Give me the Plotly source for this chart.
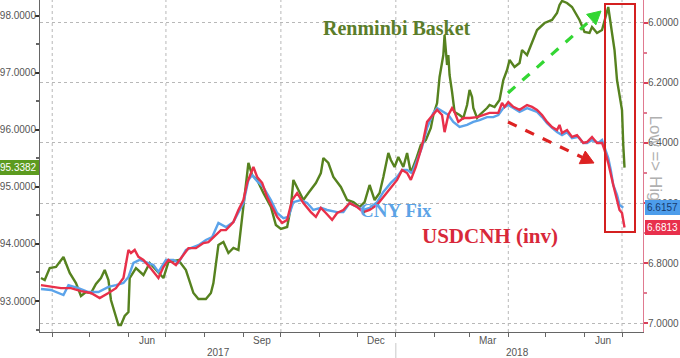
import plotly.graph_objects as go

# ---------------- data ----------------
basket_dates = [
    "2017-03-23", "2017-03-26", "2017-03-30", "2017-04-04", "2017-04-10", "2017-04-15", "2017-04-20",
    "2017-04-24", "2017-04-28", "2017-05-02", "2017-05-06", "2017-05-10", "2017-05-13", "2017-05-16",
    "2017-05-18", "2017-05-21", "2017-05-24", "2017-05-26", "2017-05-29", "2017-06-01", "2017-06-02",
    "2017-06-07", "2017-06-13", "2017-06-18", "2017-06-23", "2017-06-29", "2017-07-03", "2017-07-11",
    "2017-07-17", "2017-07-23", "2017-07-27", "2017-08-02", "2017-08-06", "2017-08-08", "2017-08-12",
    "2017-08-16", "2017-08-20", "2017-08-24", "2017-08-28", "2017-09-01", "2017-09-05", "2017-09-08",
    "2017-09-12", "2017-09-17", "2017-09-23", "2017-09-27", "2017-10-01", "2017-10-06", "2017-10-09",
    "2017-10-11", "2017-10-15", "2017-10-19", "2017-10-23", "2017-10-29", "2017-11-02", "2017-11-04",
    "2017-11-08", "2017-11-12", "2017-11-18", "2017-11-23", "2017-11-28", "2017-12-03", "2017-12-07",
    "2017-12-11", "2017-12-15", "2017-12-19", "2017-12-22", "2017-12-26", "2017-12-28", "2017-12-31",
    "2018-01-03", "2018-01-07", "2018-01-10", "2018-01-13", "2018-01-17", "2018-01-21", "2018-01-25",
    "2018-01-29", "2018-01-31", "2018-02-03", "2018-02-05", "2018-02-08", "2018-02-09", "2018-02-10",
    "2018-02-11", "2018-02-12", "2018-02-13", "2018-02-15", "2018-02-17", "2018-02-21", "2018-02-24",
    "2018-02-27", "2018-03-01", "2018-03-03", "2018-03-04", "2018-03-07", "2018-03-09", "2018-03-15",
    "2018-03-17", "2018-03-21", "2018-03-25", "2018-03-28", "2018-03-31", "2018-04-02", "2018-04-06",
    "2018-04-10", "2018-04-12", "2018-04-16", "2018-04-20", "2018-04-24", "2018-04-30", "2018-05-06",
    "2018-05-10", "2018-05-12", "2018-05-14", "2018-05-18", "2018-05-22", "2018-05-28", "2018-06-01",
    "2018-06-05", "2018-06-07", "2018-06-11", "2018-06-15", "2018-06-19", "2018-06-20", "2018-06-23",
    "2018-06-25", "2018-06-27", "2018-07-01", "2018-07-02", "2018-07-03",
]
basket_vals = [
    93.403, 93.368, 93.578, 93.596, 93.771, 93.491, 93.315,
    93.088, 93.158, 93.140, 93.298, 93.403, 93.543, 93.368,
    93.018, 92.790, 92.579, 92.579, 92.737, 92.807, 93.403,
    93.578, 93.456, 93.666, 93.543, 93.403, 93.684, 93.719,
    93.543, 93.140, 93.035, 93.035, 93.140, 93.315, 93.981,
    94.034, 93.841, 93.929, 93.894, 94.717, 95.419, 95.208,
    95.121, 94.893, 94.647, 94.332, 94.262, 94.297, 94.647,
    95.121, 94.945, 94.770, 94.893, 95.068, 95.243, 95.506,
    95.419, 95.173, 94.998, 94.770, 94.735, 94.647, 94.735,
    95.033, 94.770, 94.893, 95.173, 95.594, 95.471, 95.348,
    95.524, 95.348, 95.594, 95.243, 95.471, 95.734, 95.822,
    96.032, 96.260, 96.470, 96.926, 97.311, 97.662, 97.364,
    97.136, 97.311, 96.961, 96.663, 96.312, 96.260, 96.207,
    96.435, 96.698, 96.575, 96.382, 96.207, 96.260, 96.382,
    96.435, 96.400, 96.523, 96.873, 97.048, 97.224, 97.101,
    97.171, 97.399, 97.311, 97.522, 97.749, 97.872, 97.925,
    98.047, 98.188, 98.258, 98.223, 98.152, 97.925, 97.714,
    97.697, 97.802, 97.697, 97.749, 98.100, 98.152, 97.697,
    97.399, 96.873, 96.347, 95.734, 95.3382,
]

cnh_dates = [
    "2017-03-23", "2017-03-31", "2017-04-08", "2017-04-16", "2017-04-24", "2017-05-02", "2017-05-09",
    "2017-05-16", "2017-05-22", "2017-05-28", "2017-06-01", "2017-06-03", "2017-06-06", "2017-06-09",
    "2017-06-13", "2017-06-18", "2017-06-22", "2017-06-25", "2017-06-29", "2017-07-03", "2017-07-09",
    "2017-07-15", "2017-07-19", "2017-07-25", "2017-07-31", "2017-08-04", "2017-08-10", "2017-08-14",
    "2017-08-18", "2017-08-24", "2017-08-28", "2017-09-01", "2017-09-04", "2017-09-07", "2017-09-09",
    "2017-09-12", "2017-09-16", "2017-09-20", "2017-09-24", "2017-09-28", "2017-10-02", "2017-10-06",
    "2017-10-10", "2017-10-14", "2017-10-19", "2017-10-25", "2017-10-29", "2017-11-02", "2017-11-06",
    "2017-11-11", "2017-11-15", "2017-11-20", "2017-11-25", "2017-12-01", "2017-12-06", "2017-12-11",
    "2017-12-17", "2017-12-22", "2017-12-28", "2018-01-02", "2018-01-06", "2018-01-10", "2018-01-13",
    "2018-01-17", "2018-01-21", "2018-01-23", "2018-01-26", "2018-01-31", "2018-02-03", "2018-02-07",
    "2018-02-09", "2018-02-12", "2018-02-15", "2018-02-17", "2018-02-20", "2018-02-24", "2018-03-01",
    "2018-03-07", "2018-03-12", "2018-03-17", "2018-03-24", "2018-03-27", "2018-03-29", "2018-04-01",
    "2018-04-05", "2018-04-10", "2018-04-16", "2018-04-20", "2018-04-24", "2018-04-28", "2018-05-02",
    "2018-05-06", "2018-05-10", "2018-05-12", "2018-05-14", "2018-05-18", "2018-05-22", "2018-05-26",
    "2018-05-31", "2018-06-03", "2018-06-07", "2018-06-11", "2018-06-15", "2018-06-17", "2018-06-20",
    "2018-06-22", "2018-06-24", "2018-06-27", "2018-06-29", "2018-07-01", "2018-07-03",
]
cnh_vals = [
    6.873, 6.879, 6.883, 6.883, 6.893, 6.899, 6.916,
    6.899, 6.883, 6.849, 6.756, 6.766, 6.756, 6.779,
    6.789, 6.813, 6.833, 6.849, 6.813, 6.789, 6.806,
    6.773, 6.750, 6.750, 6.733, 6.730, 6.706, 6.690,
    6.690, 6.663, 6.623, 6.590, 6.533, 6.497, 6.480,
    6.513, 6.533, 6.580, 6.613, 6.646, 6.666, 6.656,
    6.590, 6.567, 6.600, 6.630, 6.646, 6.616, 6.633,
    6.656, 6.633, 6.623, 6.600, 6.613, 6.630, 6.623,
    6.606, 6.580, 6.547, 6.523, 6.490, 6.500, 6.523,
    6.480, 6.423, 6.390, 6.330, 6.307, 6.290, 6.307,
    6.364, 6.307, 6.284, 6.297, 6.330, 6.317, 6.317,
    6.314, 6.307, 6.300, 6.300, 6.267, 6.280, 6.264,
    6.280, 6.290, 6.274, 6.280, 6.290, 6.307, 6.330,
    6.347, 6.357, 6.340, 6.367, 6.357, 6.380, 6.374,
    6.400, 6.397, 6.380, 6.400, 6.400, 6.423, 6.467,
    6.507, 6.540, 6.590, 6.623, 6.633, 6.6813,
]

fix_dates = [
    "2017-03-23", "2017-03-31", "2017-04-10", "2017-04-14", "2017-04-22", "2017-04-30", "2017-05-08",
    "2017-05-16", "2017-05-22", "2017-05-28", "2017-06-01", "2017-06-05", "2017-06-10", "2017-06-15",
    "2017-06-21", "2017-06-25", "2017-07-01", "2017-07-07", "2017-07-11", "2017-07-17", "2017-07-23",
    "2017-07-27", "2017-08-02", "2017-08-07", "2017-08-12", "2017-08-18", "2017-08-24", "2017-08-28",
    "2017-09-01", "2017-09-05", "2017-09-08", "2017-09-12", "2017-09-17", "2017-09-23", "2017-09-28",
    "2017-10-03", "2017-10-07", "2017-10-11", "2017-10-17", "2017-10-22", "2017-10-27", "2017-11-02",
    "2017-11-07", "2017-11-15", "2017-11-20", "2017-11-25", "2017-12-01", "2017-12-06", "2017-12-11",
    "2017-12-17", "2017-12-22", "2017-12-28", "2018-01-02", "2018-01-06", "2018-01-10", "2018-01-14",
    "2018-01-18", "2018-01-22", "2018-01-26", "2018-01-31", "2018-02-03", "2018-02-08", "2018-02-12",
    "2018-02-16", "2018-02-21", "2018-02-27", "2018-03-04", "2018-03-09", "2018-03-15", "2018-03-20",
    "2018-03-24", "2018-03-28", "2018-04-01", "2018-04-05", "2018-04-10", "2018-04-16", "2018-04-20",
    "2018-04-24", "2018-04-28", "2018-05-02", "2018-05-06", "2018-05-10", "2018-05-14", "2018-05-18",
    "2018-05-22", "2018-05-27", "2018-05-31", "2018-06-03", "2018-06-07", "2018-06-12", "2018-06-15",
    "2018-06-17", "2018-06-20", "2018-06-22", "2018-06-24", "2018-06-27", "2018-06-29", "2018-07-02",
]
fix_vals = [
    6.886, 6.889, 6.906, 6.873, 6.883, 6.896, 6.896,
    6.879, 6.873, 6.866, 6.846, 6.799, 6.789, 6.796,
    6.806, 6.829, 6.789, 6.789, 6.799, 6.756, 6.746,
    6.740, 6.723, 6.713, 6.666, 6.680, 6.663, 6.633,
    6.600, 6.523, 6.507, 6.527, 6.547, 6.590, 6.633,
    6.650, 6.646, 6.597, 6.590, 6.600, 6.623, 6.616,
    6.623, 6.630, 6.630, 6.600, 6.613, 6.623, 6.616,
    6.597, 6.563, 6.533, 6.513, 6.490, 6.490, 6.500,
    6.457, 6.414, 6.350, 6.300, 6.284, 6.297, 6.307,
    6.330, 6.347, 6.340, 6.330, 6.324, 6.314, 6.314,
    6.307, 6.284, 6.274, 6.284, 6.297, 6.284, 6.290,
    6.297, 6.314, 6.334, 6.350, 6.364, 6.374, 6.364,
    6.384, 6.380, 6.400, 6.400, 6.390, 6.400, 6.390,
    6.414, 6.450, 6.490, 6.540, 6.573, 6.606, 6.6157,
]

left_ticks = [93, 94, 95, 96, 97, 98]
left_minor = [92.5, 93.5, 94.5, 95.5, 96.5, 97.5]
right_ticks = [6.0, 6.2, 6.4, 6.6, 6.8, 7.0]
right_minor = [6.1, 6.3, 6.5, 6.7, 6.9]
month_starts = [
    "2017-04-01", "2017-05-01", "2017-06-01", "2017-07-01", "2017-08-01", "2017-09-01",
    "2017-10-01", "2017-11-01", "2017-12-01", "2018-01-01", "2018-02-01", "2018-03-01",
    "2018-04-01", "2018-05-01", "2018-06-01", "2018-07-01",
]
quarter_starts = ["2017-04-01", "2017-07-01", "2017-10-01", "2018-01-01", "2018-04-01", "2018-07-01"]
month_labels = ["Jun", "Sep", "Dec", "Mar", "Jun"]
month_label_dates = ["2017-06-16", "2017-09-16", "2017-12-16", "2018-03-16", "2018-06-16"]
year_labels = ["2017", "2018"]
year_label_dates = ["2017-08-12", "2018-04-08"]
year_break = "2018-01-01"

# ---------------- layout helpers ----------------
W, H = 680, 358
L, R, T, B = 40, 643, 0, 332


def px(X):
    return (X - L) / (R - L)


def py(Y):
    return (B - Y) / (B - T)


GREEN = "#56821f"
RED = "#e8304a"
BLUE = "#5ba3ea"
TICKFONT = dict(family="Liberation Sans, Arial, sans-serif", size=10, color="#555555")

fig = go.Figure()
fig.add_trace(go.Scatter(x=fix_dates, y=fix_vals, yaxis="y2", mode="lines",
                         line=dict(color=BLUE, width=2.4), name="CNY Fix"))
fig.add_trace(go.Scatter(x=cnh_dates, y=cnh_vals, yaxis="y2", mode="lines",
                         line=dict(color=RED, width=2.4), name="USDCNH (inv)"))
fig.add_trace(go.Scatter(x=basket_dates, y=basket_vals, yaxis="y", mode="lines",
                         line=dict(color=GREEN, width=2.4), name="Renminbi Basket"))

shapes = []
for q in quarter_starts:
    shapes.append(dict(type="line", xref="x", yref="paper", x0=q, x1=q, y0=0, y1=1,
                       line=dict(color="#b8b8b8", width=1, dash="dot"), layer="below"))
# year separator below the axis
shapes.append(dict(type="line", xref="x", yref="paper", x0=year_break, x1=year_break,
                   y0=py(343), y1=py(358), line=dict(color="#c8c8c8", width=1)))
# red highlight box
shapes.append(dict(type="rect", xref="paper", yref="paper", x0=px(605), x1=px(635),
                   y0=py(232), y1=py(4), line=dict(color="#d42020", width=2),
                   fillcolor="rgba(0,0,0,0)"))


def arrow(x0, y0, x1, y1, color):
    dx, dy = x1 - x0, y1 - y0
    ln = (dx * dx + dy * dy) ** 0.5
    ux, uy = dx / ln, dy / ln
    hl, hw = 13, 7
    bx, by = x1 - hl * ux, y1 - hl * uy
    nx, ny = -uy, ux
    out = [dict(type="line", xref="paper", yref="paper", x0=px(x0), y0=py(y0),
                x1=px(bx), y1=py(by), line=dict(color=color, width=3.2, dash="dash"))]
    path = "M {:.5f},{:.5f} L {:.5f},{:.5f} L {:.5f},{:.5f} Z".format(
        px(x1), py(y1), px(bx + hw * nx), py(by + hw * ny), px(bx - hw * nx), py(by - hw * ny))
    out.append(dict(type="path", xref="paper", yref="paper", path=path,
                    fillcolor=color, line=dict(color=color, width=1)))
    return out


shapes += arrow(508, 93, 601, 11, "#33d633")
shapes += arrow(508, 122, 594, 163, "#dd2222")

annotations = []
for lab, d in zip(month_labels, month_label_dates):
    annotations.append(dict(x=d, y=py(341), xref="x", yref="paper", text=lab, showarrow=False,
                            font=TICKFONT, xanchor="center", yanchor="middle"))
for lab, d in zip(year_labels, year_label_dates):
    annotations.append(dict(x=d, y=py(352), xref="x", yref="paper", text=lab, showarrow=False,
                            font=TICKFONT, xanchor="center", yanchor="middle"))

SERIF = "Liberation Serif, Times New Roman, serif"
annotations.append(dict(x=px(473), y=py(15), xref="paper", yref="paper",
                        text="<b>Renminbi Basket</b>", showarrow=False,
                        font=dict(family=SERIF, size=20, color="#5b7d2a")))
annotations.append(dict(x=px(396), y=py(223), xref="paper", yref="paper",
                        text="<b>CNY Fix</b>", showarrow=False,
                        font=dict(family=SERIF, size=19, color="#5ca3e6")))
annotations.append(dict(x=px(560), y=py(250), xref="paper", yref="paper",
                        text="<b>USDCNH (inv)</b>", showarrow=False,
                        font=dict(family=SERIF, size=21, color="#d8283a")))
annotations.append(dict(x=px(667), y=py(163), xref="paper", yref="paper",
                        text="Low => High", showarrow=False, textangle=90,
                        font=dict(family="Liberation Sans, Arial, sans-serif", size=17,
                                  color="#b0b0b0")))

# last-value boxes
annotations.append(dict(x=0, y=basket_vals[-1], xref="paper", yref="y", xanchor="right",
                        xshift=-1, text="{:.4f}".format(basket_vals[-1]), showarrow=False,
                        bgcolor="#5c9b1f", bordercolor="#5c9b1f", borderpad=1,
                        font=dict(family="Liberation Sans, Arial, sans-serif", size=10,
                                  color="white")))
annotations.append(dict(x=1, y=fix_vals[-1], xref="paper", yref="y2", xanchor="left",
                        xshift=2, text="{:.4f}".format(fix_vals[-1]), showarrow=False,
                        bgcolor="#4d9deb", bordercolor="#4d9deb", borderpad=1,
                        font=dict(family="Liberation Sans, Arial, sans-serif", size=10,
                                  color="#173a6e")))
annotations.append(dict(x=1, y=cnh_vals[-1], xref="paper", yref="y2", xanchor="left",
                        xshift=2, text="{:.4f}".format(cnh_vals[-1]), showarrow=False,
                        bgcolor="#e8304c", bordercolor="#e8304c", borderpad=1,
                        font=dict(family="Liberation Sans, Arial, sans-serif", size=10,
                                  color="white")))

fig.update_layout(
    width=W, height=H,
    margin=dict(l=L, r=W - R, t=T, b=H - B, pad=0, autoexpand=False),
    paper_bgcolor="white", plot_bgcolor="white",
    showlegend=False,
    xaxis=dict(type="date", range=["2017-03-22 05:17", "2018-07-17 19:12"],
               tickmode="array", tickvals=month_starts, showticklabels=False,
               ticks="outside", ticklen=4, tickcolor="#666666", tickwidth=1,
               showgrid=False, zeroline=False, showline=True, linecolor="#666666",
               linewidth=1, automargin=False),
    yaxis=dict(range=[92.457, 98.275], tickmode="array", tickvals=left_ticks,
               ticktext=["{:.4f}".format(v) for v in left_ticks],
               ticks="outside", ticklen=4, tickwidth=2, tickcolor="#333333",
               ticklabelstandoff=-3,
               showgrid=False, zeroline=False, showline=True, linecolor="#666666",
               linewidth=1, tickfont=TICKFONT, automargin=False,
               minor=dict(tickmode="array", tickvals=left_minor, ticks="outside",
                          ticklen=3, tickcolor="#666666", showgrid=False)),
    yaxis2=dict(overlaying="y", side="right", range=[7.0289, 5.9245], tickmode="array",
                tickvals=right_ticks, ticktext=["{:.4f}".format(v) for v in right_ticks],
                ticks="outside", ticklen=4, tickwidth=2, tickcolor="#d8405a",
                ticklabelstandoff=-2,
                showgrid=True, gridcolor="#b8b8b8", griddash="dot", gridwidth=1,
                zeroline=False, showline=True, linecolor="#e07a90", linewidth=1,
                tickfont=TICKFONT, automargin=False,
                minor=dict(tickmode="array", tickvals=right_minor, ticks="outside",
                           ticklen=3, tickcolor="#e07a90", showgrid=False)),
    shapes=shapes,
    annotations=annotations,
)

fig.write_html("out.html",
               config={"displayModeBar": False},
               post_script="document.body.style.margin='0px';"
                           "document.body.style.overflow='hidden';")
